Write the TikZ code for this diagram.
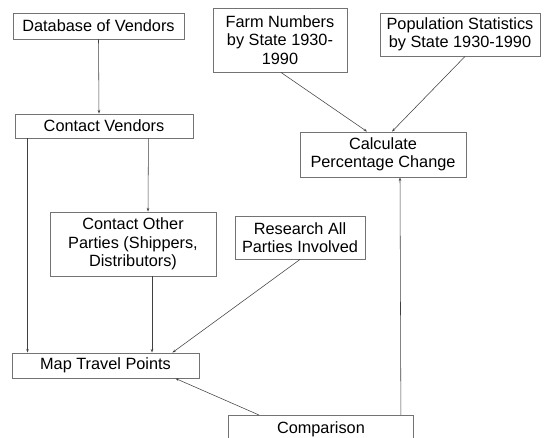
\documentclass[tikz,border=0pt]{standalone}
\usepackage{fontspec}
\setmainfont{Liberation Sans}
\usetikzlibrary{arrows.meta}
\begin{document}
\begin{tikzpicture}[x=1pt,y=-1pt,
  box/.style={draw=black!55,line width=0.9pt,fill=white,inner sep=0pt,align=center,
    font=\fontsize{16.3}{18.5}\selectfont},
  arr/.style={draw=black!75,line width=0.55pt,-{Stealth[length=3.5pt,width=2.5pt]}},
  ln/.style={draw=black!75,line width=0.55pt}]
\useasboundingbox (0,0) rectangle (544,437);
\clip (0,0) rectangle (544,437);
\node[box,minimum width=171,minimum height=26] (db) at (98.5,26) {Database of Vendors};
\node[box,minimum width=178,minimum height=24] (cv) at (104,126) {Contact Vendors};
\node[box,minimum width=134,minimum height=64] (farm) at (280,40) {Farm Numbers\\by State 1930-\\1990};
\node[box,minimum width=160,minimum height=43] (pop) at (460,34.5) {Population Statistics\\by State 1930-1990};
\node[box,minimum width=166,minimum height=45] (calc) at (383,154.5) {Calculate\\Percentage Change};
\node[box,minimum width=166,minimum height=64] (cop) at (133,244) {Contact Other\\Parties (Shippers,\\Distributors)};
\node[box,minimum width=130,minimum height=43] (res) at (300,237.5) {Research All\\Parties Involved};
\node[box,minimum width=187,minimum height=25] (map) at (105.5,365.5) {Map Travel Points};
\node[box,minimum width=185,minimum height=28,anchor=north west] (comp) at (228,415) {Comparison};

\draw[arr] (db.south) -- ([xshift=-5]cv.north);
\draw[arr] ([xshift=13]cv.south west) -- ([xshift=16]map.north west);
\draw[arr] ([xshift=-45]cv.south east) -- ([xshift=15]cop.north);
\draw[arr] ([xshift=19]cop.south) -- ([xshift=46.5]map.north);
\draw[arr] (res.south) -- ([xshift=-27]map.north east);
\draw[arr] ([xshift=31]comp.north west) -- ([xshift=-24]map.south east);
\draw[arr] ([xshift=-13]comp.north east) -- ([xshift=17]calc.south);
\draw[arr] ([xshift=1]farm.south) -- ([xshift=-16]calc.north);
\draw[arr] ([xshift=5]pop.south) -- ([xshift=9]calc.north);
\end{tikzpicture}
\end{document}
